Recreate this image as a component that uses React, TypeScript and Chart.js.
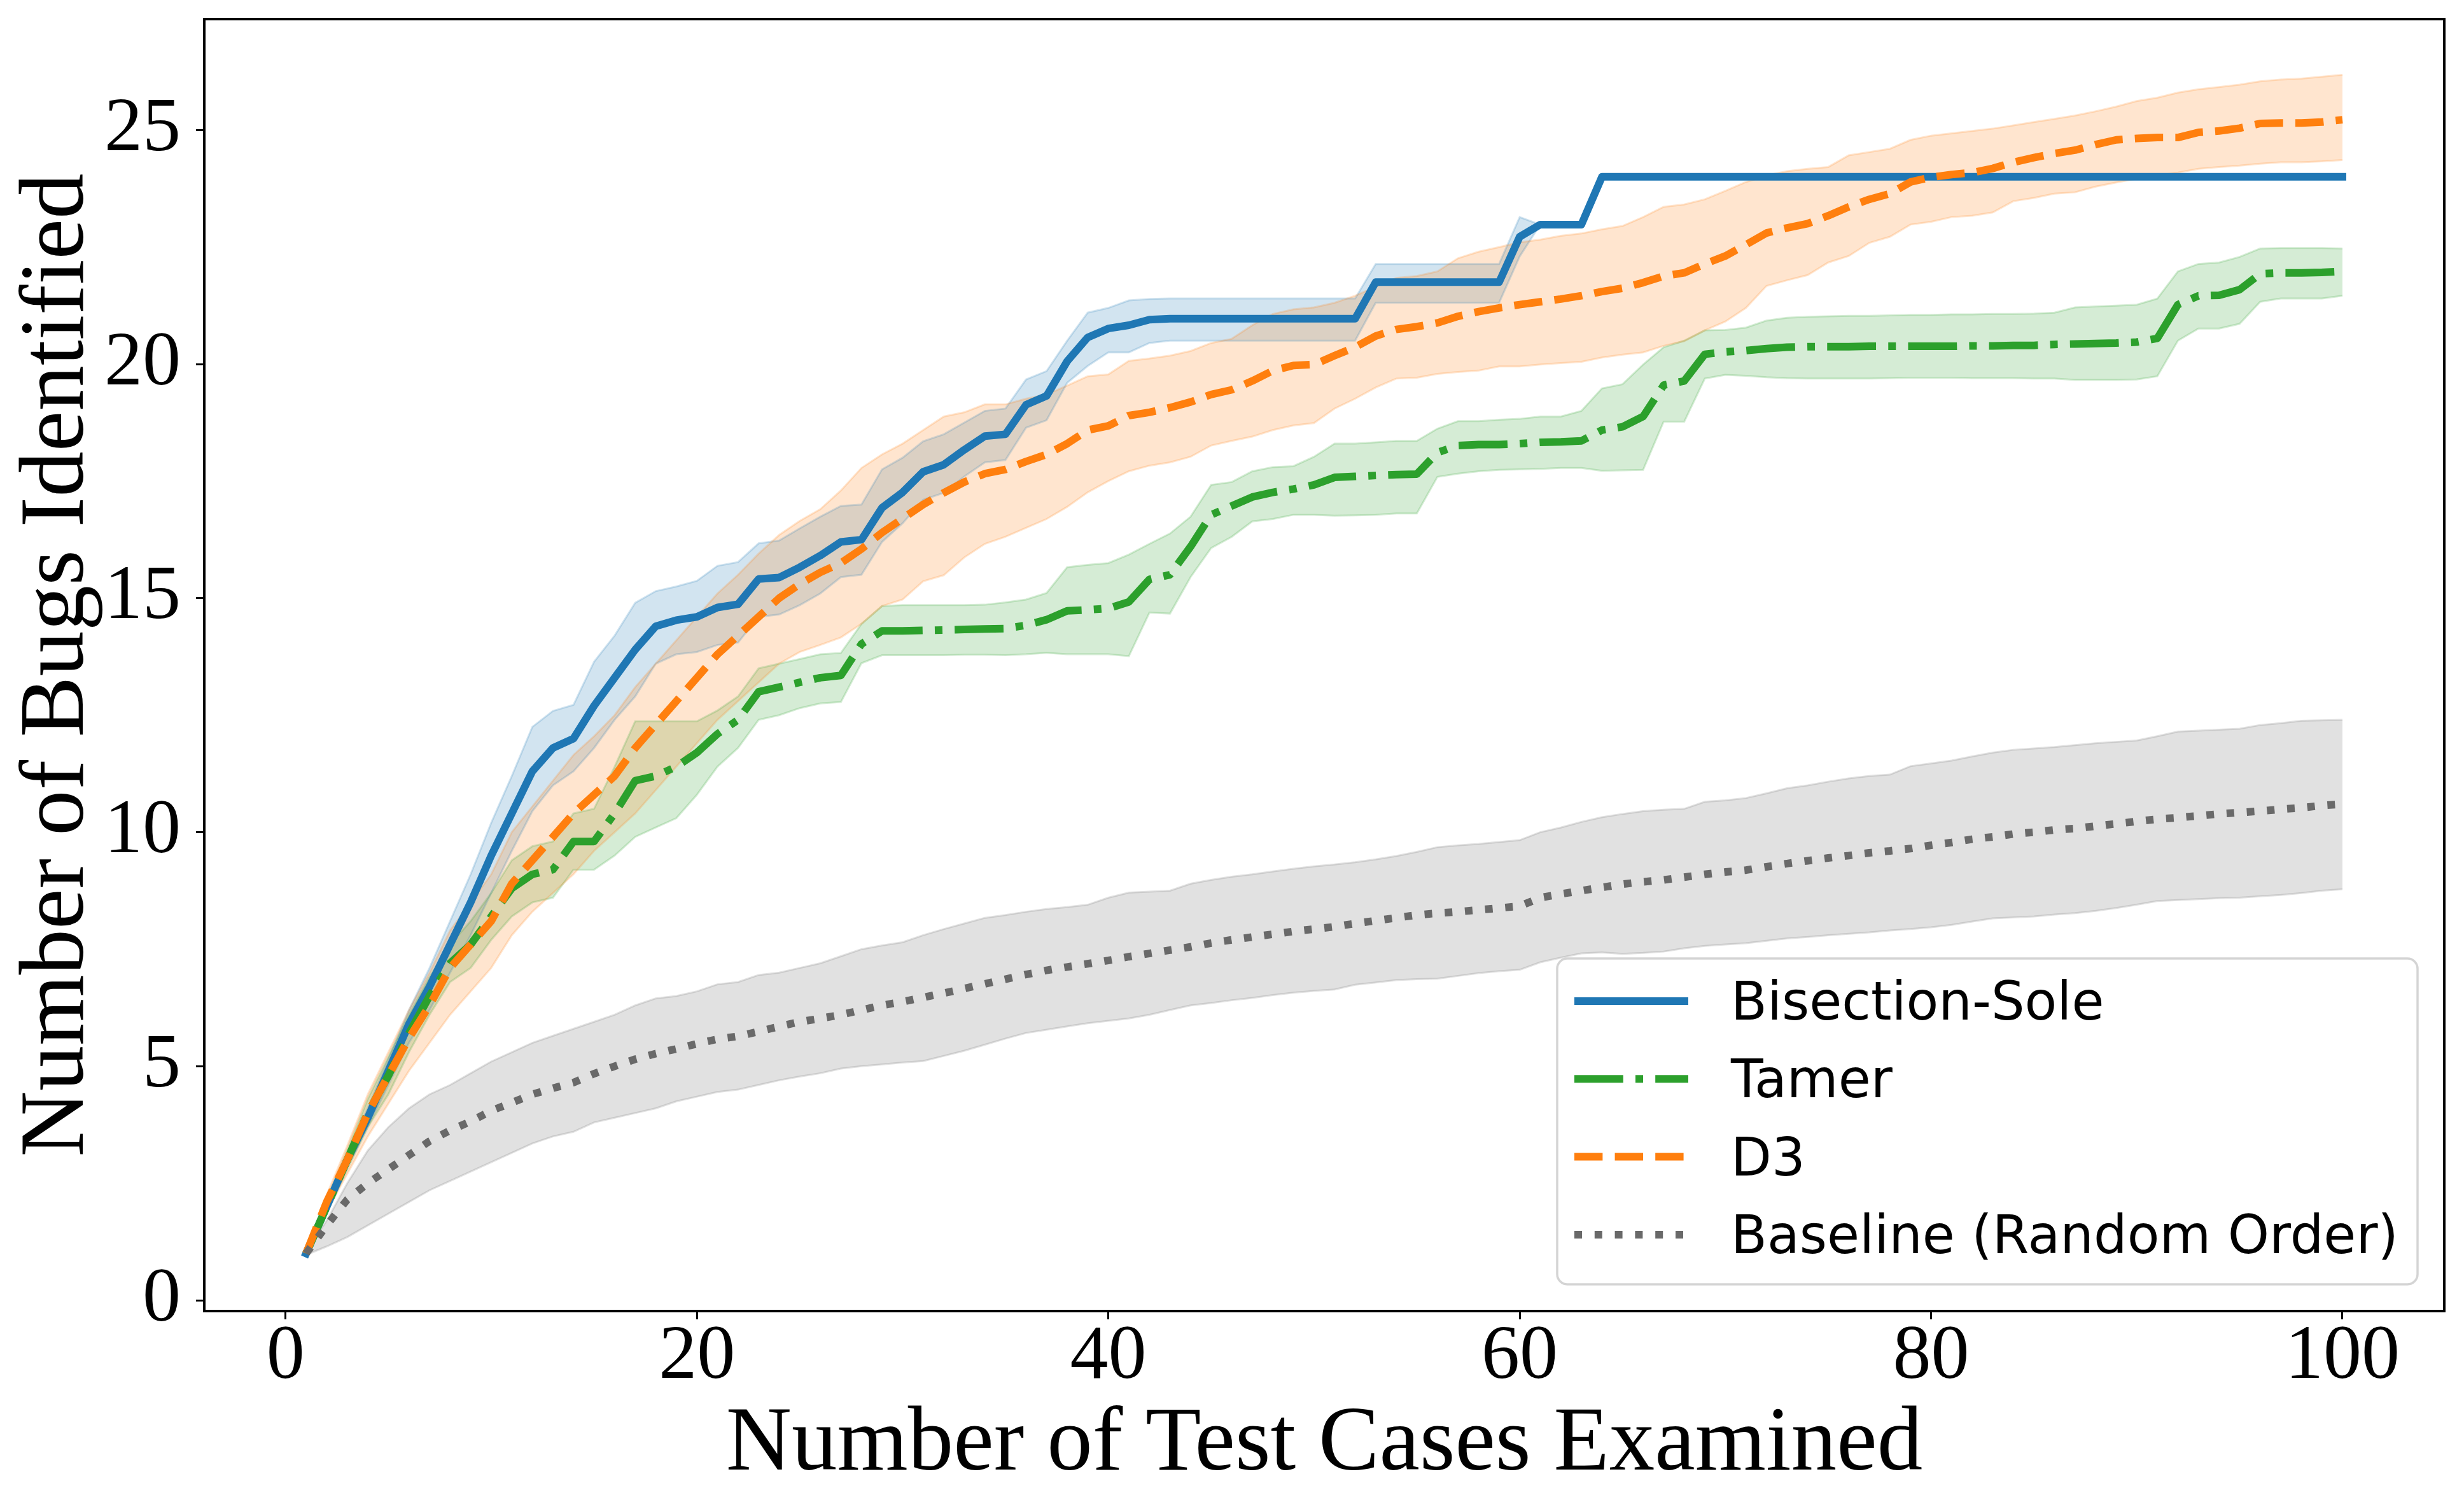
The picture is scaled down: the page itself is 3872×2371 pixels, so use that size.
import React, { useEffect, useRef } from "react";
import { Chart, registerables } from "chart.js";

Chart.register(...registerables);

// ---------------- data ----------------
const testCases = [
  1, 2, 3, 4, 5, 6, 7, 8, 9, 10,
  11, 12, 13, 14, 15, 16, 17, 18, 19, 20,
  21, 22, 23, 24, 25, 26, 27, 28, 29, 30,
  31, 32, 33, 34, 35, 36, 37, 38, 39, 40,
  41, 42, 43, 44, 45, 46, 47, 48, 49, 50,
  51, 52, 53, 54, 55, 56, 57, 58, 59, 60,
  61, 62, 63, 64, 65, 66, 67, 68, 69, 70,
  71, 72, 73, 74, 75, 76, 77, 78, 79, 80,
  81, 82, 83, 84, 85, 86, 87, 88, 89, 90,
  91, 92, 93, 94, 95, 96, 97, 98, 99, 100,
];

const xTickValues = [0, 20, 40, 60, 80, 100];
const yTickValues = [0, 5, 10, 15, 20, 25];

const seriesNames = ["Bisection-Sole", "Tamer", "D3", "Baseline (Random Order)"];

const bisectionMean = [
  1.0, 2.0, 3.0, 3.9, 4.9, 5.9, 6.7, 7.6, 8.5, 9.5,
  10.4, 11.3, 11.8, 12.0, 12.7, 13.3, 13.9, 14.4, 14.53, 14.6,
  14.8, 14.87, 15.41, 15.44, 15.66, 15.91, 16.2, 16.25, 16.93, 17.26,
  17.7, 17.85, 18.17, 18.46, 18.5, 19.13, 19.32, 20.06, 20.57, 20.76,
  20.83, 20.95, 20.97, 20.97, 20.97, 20.97, 20.97, 20.97, 20.97, 20.97,
  20.97, 20.97, 21.75, 21.75, 21.75, 21.75, 21.75, 21.75, 21.75, 22.72,
  22.98, 22.98, 22.98, 24, 24, 24, 24, 24, 24, 24,
  24, 24, 24, 24, 24, 24, 24, 24, 24, 24,
  24, 24, 24, 24, 24, 24, 24, 24, 24, 24,
  24, 24, 24, 24, 24, 24, 24, 24, 24, 24,
];
const bisectionHigh = [
  1.0, 2.1, 3.15, 4.1, 5.15, 6.2, 7.1, 8.1, 9.1, 10.2,
  11.2, 12.25, 12.59, 12.72, 13.64, 14.2, 14.9, 15.15, 15.25, 15.37,
  15.69, 15.77, 16.17, 16.23, 16.49, 16.74, 16.97, 17.0, 17.75, 18.0,
  18.35, 18.5, 18.75, 19.0, 19.05, 19.67, 19.85, 20.5, 21.1, 21.2,
  21.36, 21.39, 21.4, 21.4, 21.4, 21.4, 21.4, 21.4, 21.4, 21.4,
  21.4, 21.4, 22.14, 22.14, 22.14, 22.14, 22.14, 22.14, 22.14, 23.14,
  22.98, 22.98, 22.98, 24, 24, 24, 24, 24, 24, 24,
  24, 24, 24, 24, 24, 24, 24, 24, 24, 24,
  24, 24, 24, 24, 24, 24, 24, 24, 24, 24,
  24, 24, 24, 24, 24, 24, 24, 24, 24, 24,
];
const bisectionLow = [
  1.0, 1.9, 2.85, 3.7, 4.6, 5.5, 6.2, 7.0, 7.8, 8.7,
  9.6, 10.45, 11.0, 11.3, 11.8, 12.4, 12.9, 13.6, 13.8, 13.85,
  14.0, 14.05, 14.6, 14.65, 14.85, 15.1, 15.45, 15.5, 16.2, 16.6,
  17.1, 17.25, 17.6, 17.9, 17.95, 18.64, 18.8, 19.6, 19.96, 20.25,
  20.25, 20.45, 20.5, 20.5, 20.5, 20.5, 20.5, 20.5, 20.5, 20.5,
  20.5, 20.5, 21.31, 21.31, 21.31, 21.31, 21.31, 21.31, 21.31, 22.3,
  22.98, 22.98, 22.98, 24, 24, 24, 24, 24, 24, 24,
  24, 24, 24, 24, 24, 24, 24, 24, 24, 24,
  24, 24, 24, 24, 24, 24, 24, 24, 24, 24,
  24, 24, 24, 24, 24, 24, 24, 24, 24, 24,
];

const tamerMean = [
  1.0, 2.0, 3.0, 4.0, 4.8, 5.7, 6.5, 7.2, 7.6, 8.2,
  8.8, 9.1, 9.2, 9.8, 9.8, 10.4, 11.1, 11.2, 11.4, 11.7,
  12.1, 12.4, 13.0, 13.1, 13.2, 13.3, 13.35, 14.02, 14.3, 14.3,
  14.31, 14.32, 14.33, 14.34, 14.35, 14.42, 14.54, 14.73, 14.75, 14.78,
  14.92, 15.4, 15.5, 16.1, 16.78, 16.97, 17.16, 17.26, 17.33, 17.42,
  17.58, 17.6, 17.62, 17.64, 17.65, 18.11, 18.26, 18.28, 18.28, 18.3,
  18.33, 18.34, 18.36, 18.59, 18.66, 18.88, 19.55, 19.64, 20.21, 20.26,
  20.29, 20.33, 20.36, 20.37, 20.37, 20.37, 20.38, 20.38, 20.38, 20.38,
  20.38, 20.39, 20.39, 20.4, 20.4, 20.42, 20.43, 20.44, 20.45, 20.47,
  20.55, 21.27, 21.46, 21.47, 21.59, 21.93, 21.95, 21.95, 21.96, 21.98,
];
const tamerHigh = [
  1.0, 2.15, 3.2, 4.3, 5.2, 6.1, 6.9, 7.6, 8.1, 8.7,
  9.4, 9.7, 9.8, 10.4, 10.5, 11.4, 12.37, 12.37, 12.37, 12.37,
  12.6, 12.9, 13.5, 13.6, 13.7, 13.8, 13.83, 14.45, 14.83, 14.85,
  14.85, 14.85, 14.85, 14.86, 14.91, 14.97, 15.11, 15.66, 15.71, 15.75,
  15.93, 16.16, 16.38, 16.74, 17.42, 17.48, 17.71, 17.8, 17.82, 18.02,
  18.3, 18.3, 18.33, 18.36, 18.36, 18.62, 18.78, 18.78, 18.81, 18.83,
  18.88, 18.88, 19.0, 19.48, 19.57, 19.99, 20.36, 20.5, 20.72, 20.73,
  20.78, 20.93, 20.99, 21.01, 21.02, 21.03, 21.03, 21.04, 21.05, 21.05,
  21.06, 21.06, 21.07, 21.07, 21.08, 21.1, 21.21, 21.23, 21.25, 21.27,
  21.4, 21.98, 22.14, 22.17, 22.29, 22.47, 22.48, 22.48, 22.48, 22.47,
];
const tamerLow = [
  1.0, 1.85, 2.8, 3.7, 4.4, 5.3, 6.1, 6.8, 7.1, 7.7,
  8.2, 8.5, 8.6, 9.2, 9.2, 9.5, 9.9, 10.1, 10.3, 10.8,
  11.4, 11.8, 12.4, 12.5, 12.65, 12.75, 12.78, 13.61, 13.78, 13.78,
  13.78, 13.78, 13.79, 13.79, 13.78, 13.8, 13.83, 13.8, 13.8, 13.8,
  13.76, 14.69, 14.67, 15.45, 16.07, 16.31, 16.64, 16.69, 16.78, 16.78,
  16.76, 16.77, 16.78, 16.81, 16.81, 17.59, 17.66, 17.71, 17.74, 17.75,
  17.76, 17.78, 17.78, 17.72, 17.73, 17.74, 18.77, 18.77, 19.69, 19.77,
  19.75, 19.72, 19.7, 19.69, 19.69, 19.69, 19.69, 19.7, 19.71, 19.71,
  19.71, 19.7, 19.7, 19.7, 19.69, 19.69, 19.66, 19.66, 19.66, 19.67,
  19.74, 20.5, 20.76, 20.76, 20.86, 21.33, 21.4, 21.4, 21.4, 21.46,
];

const d3Mean = [
  1.0, 2.1, 3.0, 4.0, 4.8, 5.6, 6.3, 7.1, 7.6, 8.1,
  8.9, 9.4, 9.9, 10.4, 10.8, 11.2, 11.8, 12.3, 12.8, 13.3,
  13.8, 14.2, 14.6, 15.0, 15.3, 15.55, 15.75, 16.05, 16.4, 16.7,
  17.0, 17.25, 17.48, 17.66, 17.75, 17.92, 18.07, 18.3, 18.59, 18.68,
  18.9, 18.97, 19.07, 19.19, 19.35, 19.45, 19.64, 19.86, 19.97, 19.99,
  20.18, 20.36, 20.6, 20.74, 20.8, 20.88, 21.02, 21.12, 21.2, 21.27,
  21.33, 21.39, 21.46, 21.55, 21.62, 21.74, 21.88, 21.95, 22.14, 22.31,
  22.55, 22.8, 22.91, 23.0, 23.17, 23.36, 23.52, 23.64, 23.89, 23.99,
  24.05, 24.09, 24.18, 24.31, 24.41, 24.5, 24.57, 24.69, 24.79, 24.82,
  24.84, 24.84, 24.95, 24.98, 25.04, 25.14, 25.15, 25.15, 25.17, 25.22,
];
const d3High = [
  1.0, 2.25, 3.3, 4.4, 5.3, 6.2, 7.0, 7.9, 8.5, 9.1,
  10.0, 10.55, 11.1, 11.65, 12.05, 12.5, 13.1, 13.6, 14.1, 14.6,
  15.1, 15.5, 15.95, 16.35, 16.65, 16.9, 17.3, 17.78, 18.07, 18.3,
  18.59, 18.88, 18.97, 19.14, 19.14, 19.26, 19.35, 19.54, 19.74, 19.78,
  20.07, 20.12, 20.18, 20.28, 20.45, 20.54, 20.83, 21.07, 21.17, 21.21,
  21.31, 21.46, 21.65, 21.84, 21.88, 21.98, 22.26, 22.4, 22.5, 22.6,
  22.66, 22.74, 22.79, 22.88, 22.95, 23.14, 23.36, 23.41, 23.52, 23.7,
  23.89, 24.03, 24.12, 24.17, 24.21, 24.46, 24.53, 24.6, 24.79, 24.88,
  24.93, 24.98, 25.03, 25.1, 25.17, 25.24, 25.31, 25.4, 25.5, 25.62,
  25.69, 25.8, 25.87, 25.92, 25.97, 26.04, 26.08, 26.1, 26.14, 26.18,
];
const d3Low = [
  1.0, 1.9, 2.7, 3.5, 4.2, 4.9, 5.5, 6.1, 6.6, 7.1,
  7.8, 8.3, 8.7, 9.1, 9.6, 10.0, 10.4, 10.9, 11.4, 11.9,
  12.4, 12.8, 13.2, 13.6, 13.85, 14.0, 14.16, 14.45, 14.83, 14.97,
  15.36, 15.49, 15.87, 16.16, 16.31, 16.5, 16.69, 16.95, 17.26, 17.5,
  17.71, 17.83, 17.9, 18.02, 18.26, 18.36, 18.45, 18.59, 18.69, 18.74,
  19.05, 19.26, 19.5, 19.69, 19.71, 19.79, 19.83, 19.86, 19.95, 19.95,
  19.99, 20.02, 20.05, 20.14, 20.2, 20.25, 20.39, 20.49, 20.72, 20.91,
  21.2, 21.67, 21.79, 21.9, 22.17, 22.31, 22.59, 22.72, 22.98, 23.04,
  23.14, 23.17, 23.24, 23.48, 23.55, 23.64, 23.67, 23.79, 23.88, 23.96,
  24.03, 24.09, 24.17, 24.21, 24.24, 24.28, 24.31, 24.31, 24.33, 24.36,
];

const baselineMean = [
  1.0, 1.6, 2.15, 2.5, 2.8, 3.1, 3.4, 3.63, 3.82, 4.05,
  4.22, 4.4, 4.53, 4.65, 4.84, 5.0, 5.15, 5.27, 5.37, 5.48,
  5.58, 5.64, 5.74, 5.85, 5.95, 6.02, 6.1, 6.2, 6.3, 6.38,
  6.47, 6.56, 6.66, 6.76, 6.86, 6.96, 7.05, 7.12, 7.19, 7.26,
  7.34, 7.41, 7.48, 7.55, 7.63, 7.7, 7.76, 7.82, 7.88, 7.93,
  7.98, 8.05, 8.11, 8.17, 8.23, 8.27, 8.3, 8.34, 8.38, 8.42,
  8.6, 8.68, 8.75, 8.82, 8.89, 8.94, 8.98, 9.04, 9.1, 9.15,
  9.19, 9.26, 9.33, 9.39, 9.45, 9.5, 9.56, 9.6, 9.65, 9.72,
  9.78, 9.85, 9.9, 9.96, 10.0, 10.05, 10.08, 10.13, 10.18, 10.23,
  10.28, 10.31, 10.35, 10.39, 10.42, 10.45, 10.49, 10.52, 10.57, 10.6,
];
const baselineHigh = [
  1.05, 1.7, 2.5, 3.2, 3.7, 4.1, 4.4, 4.6, 4.85, 5.1,
  5.3, 5.5, 5.65, 5.8, 5.95, 6.1, 6.3, 6.45, 6.5, 6.6,
  6.75, 6.8, 6.95, 7.0, 7.1, 7.2, 7.35, 7.5, 7.58, 7.65,
  7.8, 7.93, 8.05, 8.17, 8.23, 8.3, 8.36, 8.4, 8.45, 8.6,
  8.71, 8.73, 8.75, 8.9, 8.98, 9.05, 9.1, 9.16, 9.22, 9.27,
  9.31, 9.36, 9.42, 9.49, 9.58, 9.68, 9.72, 9.75, 9.79, 9.83,
  10.0, 10.1, 10.22, 10.32, 10.39, 10.45, 10.48, 10.5, 10.65, 10.68,
  10.73, 10.83, 10.94, 11.0, 11.08, 11.15, 11.2, 11.23, 11.41, 11.47,
  11.53, 11.62, 11.7, 11.76, 11.79, 11.82, 11.86, 11.9, 11.93, 11.96,
  12.05, 12.15, 12.17, 12.19, 12.21, 12.29, 12.33, 12.38, 12.39, 12.4,
];
const baselineLow = [
  0.97, 1.15, 1.35, 1.6, 1.85, 2.1, 2.35, 2.55, 2.75, 2.95,
  3.15, 3.35, 3.5, 3.6, 3.8, 3.9, 4.0, 4.1, 4.25, 4.35,
  4.45, 4.5, 4.6, 4.7, 4.78, 4.85, 4.95, 5.0, 5.04, 5.08,
  5.11, 5.22, 5.33, 5.46, 5.59, 5.71, 5.78, 5.85, 5.92, 5.97,
  6.02, 6.1, 6.2, 6.3, 6.35, 6.41, 6.46, 6.52, 6.57, 6.61,
  6.64, 6.74, 6.79, 6.84, 6.86, 6.87, 6.93, 6.99, 7.03, 7.06,
  7.22, 7.32, 7.41, 7.43, 7.4, 7.42, 7.45, 7.52, 7.57, 7.6,
  7.63, 7.68, 7.73, 7.76, 7.8, 7.83, 7.86, 7.9, 7.93, 7.97,
  8.02, 8.09, 8.16, 8.18, 8.2, 8.24, 8.27, 8.32, 8.38, 8.45,
  8.53, 8.55, 8.57, 8.59, 8.6, 8.63, 8.66, 8.7, 8.75, 8.78,
];

// ---------------- styles ----------------
const CANVAS_W = 3872;
const CANVAS_H = 2371;
const RGB_BLUE = "31,119,180";
const RGB_GREEN = "44,160,44";
const RGB_ORANGE = "255,127,14";
const RGB_GRAY = "105,105,105";
const LINE_W = 12;
const DASH_SOLID: number[] = [];
const DASH_DASHDOT = [76.8, 19.2, 12, 19.2];
const DASH_DASHED = [44.4, 19.2];
const DASH_DOTTED = [12, 19.8];
const SERIF = "'Liberation Serif', 'Times New Roman', serif";
const SANS = "'DejaVu Sans', sans-serif";

const frameAndLegend = {
  id: "frameAndLegend",
  afterDatasetsDraw(chart: any) {
    const { ctx, chartArea: a } = chart;
    ctx.save();
    // axes frame (all four spines)
    ctx.setLineDash([]);
    ctx.lineWidth = 4;
    ctx.strokeStyle = "#000";
    ctx.strokeRect(a.left, a.top, a.right - a.left, a.bottom - a.top);

    // legend box
    const bw = 1352;
    const bh = 512;
    const bx = a.right - 42 - bw;
    const by = a.bottom - 42 - bh;
    const r = 16;
    ctx.beginPath();
    ctx.moveTo(bx + r, by);
    ctx.lineTo(bx + bw - r, by);
    ctx.arcTo(bx + bw, by, bx + bw, by + r, r);
    ctx.lineTo(bx + bw, by + bh - r);
    ctx.arcTo(bx + bw, by + bh, bx + bw - r, by + bh, r);
    ctx.lineTo(bx + r, by + bh);
    ctx.arcTo(bx, by + bh, bx, by + bh - r, r);
    ctx.lineTo(bx, by + r);
    ctx.arcTo(bx, by, bx + r, by, r);
    ctx.closePath();
    ctx.fillStyle = "rgba(255,255,255,0.8)";
    ctx.fill();
    ctx.lineWidth = 3.5;
    ctx.strokeStyle = "rgba(204,204,204,0.85)";
    ctx.stroke();

    const items = chart.data.datasets.filter((d: any) => d.label);
    items.forEach((d: any, i: number) => {
      const y = by + 67 + i * 122.3;
      ctx.beginPath();
      ctx.setLineDash(d.borderDash || []);
      ctx.lineDashOffset = 0;
      ctx.lineCap = "butt";
      ctx.lineWidth = LINE_W;
      ctx.strokeStyle = d.borderColor;
      ctx.moveTo(bx + 27, y);
      ctx.lineTo(bx + 206, y);
      ctx.stroke();
      ctx.setLineDash([]);
      ctx.fillStyle = "#000";
      ctx.font = `83px ${SANS}`;
      ctx.textAlign = "left";
      ctx.textBaseline = "alphabetic";
      ctx.fillText(d.label, bx + 273, y + 29);
    });
    ctx.restore();
  },
};

const zeroPadding = (s: any) => {
  s.paddingTop = 0;
  s.paddingBottom = 0;
  s.paddingLeft = 0;
  s.paddingRight = 0;
};

export default function App() {
  const ref = useRef<HTMLCanvasElement | null>(null);

  useEffect(() => {
    const canvas = ref.current;
    if (!canvas) return;
    const pts = (ys: number[]) => testCases.map((x, i) => ({ x, y: ys[i] }));
    const band = (lo: number[], hi: number[], rgb: string, order: number) => [
      {
        label: "",
        data: pts(lo),
        borderColor: `rgba(${rgb},0.2)`,
        backgroundColor: `rgba(${rgb},0.2)`,
        borderWidth: 3,
        pointRadius: 0,
        pointHoverRadius: 0,
        fill: false,
        tension: 0,
        order,
      },
      {
        label: "",
        data: pts(hi),
        borderColor: `rgba(${rgb},0.2)`,
        backgroundColor: `rgba(${rgb},0.2)`,
        borderWidth: 3,
        pointRadius: 0,
        pointHoverRadius: 0,
        fill: "-1",
        tension: 0,
        order,
      },
    ];
    const line = (label: string, ys: number[], rgb: string, dash: number[], cap: string, order: number) => ({
      label,
      data: pts(ys),
      borderColor: `rgb(${rgb})`,
      backgroundColor: `rgb(${rgb})`,
      borderWidth: LINE_W,
      borderDash: dash,
      borderCapStyle: cap,
      borderJoinStyle: "round",
      pointRadius: 0,
      pointHoverRadius: 0,
      fill: false,
      tension: 0,
      order,
    });

    const datasets: any[] = [
      ...band(bisectionLow, bisectionHigh, RGB_BLUE, 8),
      ...band(tamerLow, tamerHigh, RGB_GREEN, 7),
      ...band(d3Low, d3High, RGB_ORANGE, 6),
      ...band(baselineLow, baselineHigh, RGB_GRAY, 5),
      line(seriesNames[0], bisectionMean, RGB_BLUE, DASH_SOLID, "square", 4),
      line(seriesNames[1], tamerMean, RGB_GREEN, DASH_DASHDOT, "butt", 3),
      line(seriesNames[2], d3Mean, RGB_ORANGE, DASH_DASHED, "butt", 2),
      line(seriesNames[3], baselineMean, RGB_GRAY, DASH_DOTTED, "butt", 1),
    ];

    const tickGrid = {
      display: true,
      drawOnChartArea: false,
      drawTicks: true,
      tickLength: 13,
      tickWidth: 3,
      tickColor: "#000",
      color: "#000",
      lineWidth: 3,
    };

    const chart = new Chart(canvas, {
      type: "line",
      data: { datasets },
      options: {
        animation: false,
        responsive: false,
        maintainAspectRatio: false,
        devicePixelRatio: 1,
        events: [],
        layout: { padding: { left: 0, right: 31, top: 30, bottom: 0 } },
        plugins: {
          legend: { display: false },
          tooltip: { enabled: false },
          filler: { drawTime: "beforeDatasetsDraw" },
        },
        scales: {
          x: {
            type: "linear",
            min: -3.95,
            max: 104.95,
            afterBuildTicks: (s: any) => {
              s.ticks = xTickValues.map((v) => ({ value: v }));
            },
            afterFit: (s: any) => {
              s.height = 311;
              zeroPadding(s);
            },
            grid: tickGrid,
            border: { display: false },
            ticks: {
              autoSkip: false,
              maxRotation: 0,
              minRotation: 0,
              padding: 0,
              color: "#000",
              font: { family: SERIF, size: 120, lineHeight: 1 },
              callback: (v: any) => String(v),
            },
            title: {
              display: true,
              text: "Number of Test Cases Examined",
              color: "#000",
              font: { family: SERIF, size: 143, lineHeight: 1 },
              padding: { top: 0, bottom: 28 },
            },
          },
          y: {
            type: "linear",
            min: -0.23,
            max: 27.37,
            afterBuildTicks: (s: any) => {
              s.ticks = yTickValues.map((v) => ({ value: v }));
            },
            afterFit: (s: any) => {
              s.width = 321;
              zeroPadding(s);
            },
            grid: tickGrid,
            border: { display: false },
            ticks: {
              autoSkip: false,
              padding: 24,
              color: "#000",
              font: { family: SERIF, size: 120, lineHeight: 1 },
              callback: (v: any) => String(v),
            },
            title: {
              display: true,
              text: "Number of Bugs Identified",
              color: "#000",
              font: { family: SERIF, size: 143, lineHeight: 1 },
              padding: { top: 21, bottom: 0 },
            },
          },
        },
      } as any,
      plugins: [frameAndLegend],
    });

    return () => chart.destroy();
  }, []);

  return (
    <div
      style={{
        position: "fixed",
        left: 0,
        top: 0,
        width: CANVAS_W,
        height: CANVAS_H,
        background: "#fff",
      }}
    >
      <canvas
        ref={ref}
        width={CANVAS_W}
        height={CANVAS_H}
        style={{ display: "block", width: CANVAS_W, height: CANVAS_H }}
      />
    </div>
  );
}
